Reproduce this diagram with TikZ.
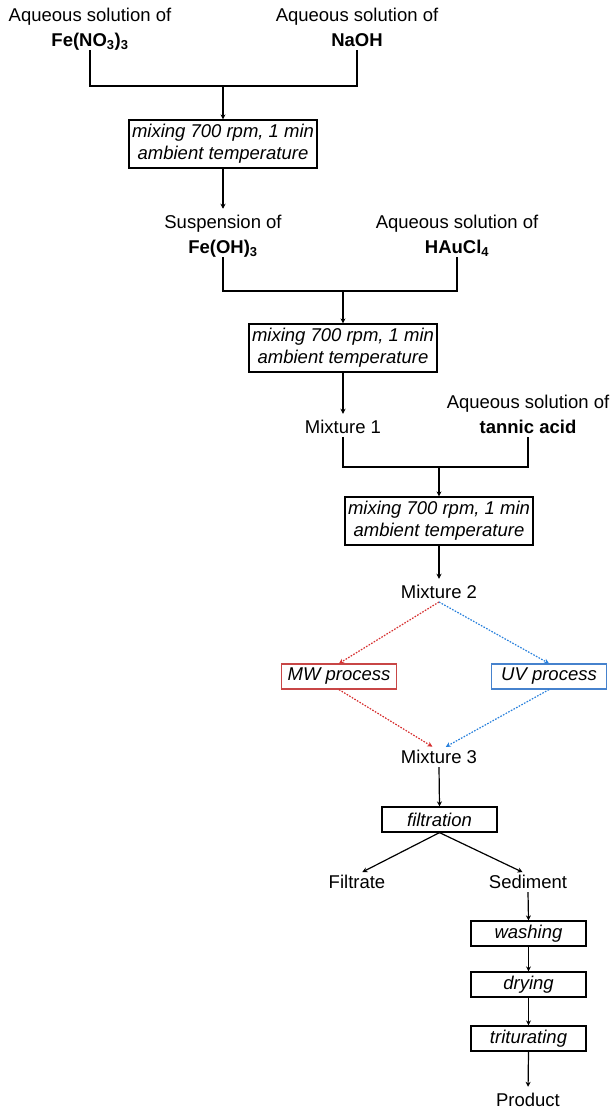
\documentclass[tikz,border=0pt]{standalone}
\usepackage{fontspec}
\setmainfont{Liberation Sans}
\usetikzlibrary{arrows.meta}
\definecolor{mwred}{RGB}{214,48,48}
\definecolor{mwbox}{RGB}{200,70,70}
\definecolor{uvblue}{RGB}{40,128,220}
\definecolor{uvbox}{RGB}{70,130,205}
\begin{document}
\begin{tikzpicture}[x=1pt,y=-1pt,
  lbl/.style={font=\fontsize{18.5}{25}\selectfont, align=center, inner sep=0pt, outer sep=0pt, anchor=south},
  mixbox/.style={draw, line width=1.2pt, font=\fontsize{18.5}{22}\selectfont\itshape, align=center,
    inner xsep=3pt, inner ysep=0pt, minimum height=48pt},
  sbox/.style={draw, line width=1.2pt, font=\fontsize{18.5}{22}\selectfont\itshape,
    inner sep=0pt, minimum width=115pt, minimum height=25pt},
  arr/.style={line width=1.2pt, -{Stealth[length=5pt,width=5pt]}},
  line/.style={line width=1.2pt},
  dotarr/.style={line width=1.2pt, dash pattern=on 1.6pt off 1.4pt, -{Stealth[length=5pt,width=5pt]}},
  tolbl/.style={shorten >=6pt}
]
\useasboundingbox (0,0) rectangle (612,1108);

% row 1
\node[lbl] (fe) at (90,50) {Aqueous solution of\\ \textbf{Fe(NO\textsubscript{3})\textsubscript{3}}\vphantom{()}};
\node[lbl] (naoh) at (357,50) {Aqueous solution of\\ \textbf{NaOH}\vphantom{()}};
\coordinate (j1) at (223,86);
\node[mixbox] (box1) at (223,144) {mixing 700 rpm, 1 min\\ ambient temperature};

% row 2
\node[lbl] (susp) at (223,257) {Suspension of\\ \textbf{Fe(OH)\textsubscript{3}}\vphantom{()}};
\node[lbl] (hau) at (457,257) {Aqueous solution of\\ \textbf{HAuCl\textsubscript{4}}\vphantom{()}};
\coordinate (j2) at (343,291);
\node[mixbox] (box2) at (343,348) {mixing 700 rpm, 1 min\\ ambient temperature};

% row 3
\node[lbl] (mix1) at (343,437) {Mixture 1\vphantom{()}};
\node[lbl] (tan) at (528,437) {Aqueous solution of\\ \textbf{tannic acid}\vphantom{()}};
\coordinate (j3) at (439,467);
\node[mixbox] (box3) at (439,521) {mixing 700 rpm, 1 min\\ ambient temperature};

\node[lbl] (mix2) at (439,602) {Mixture 2\vphantom{()}};
\node[sbox, draw=mwbox] (mw) at (339,676.5) {MW process};
\node[sbox, draw=uvbox] (uv) at (549,676.5) {UV process};
\node[lbl] (mix3) at (439,767) {Mixture 3\vphantom{()}};

\node[sbox] (filt) at (439.5,819.5) {filtration};
\node[lbl] (filtrate) at (357,892) {Filtrate\vphantom{()}};
\node[lbl] (sed) at (528,892) {Sediment\vphantom{()}};
\node[sbox] (wash) at (528.5,933.5) {washing};
\node[sbox] (dry) at (528.5,984.5) {drying};
\node[sbox] (trit) at (528.5,1038.5) {triturating};
\node[lbl] (prod) at (528,1110) {Product\vphantom{()}};

% connectors
\draw[line] (fe.south) |- (j1) -| (naoh.south);
\draw[arr] (j1) -- (box1.north);
\draw[arr, tolbl] (box1.south) -- (susp.north);

\draw[line] (susp.south) |- (j2) -| (hau.south);
\draw[arr] (j2) -- (box2.north);
\draw[arr, tolbl] (box2.south) -- (mix1.north);

\draw[line] (mix1.south) |- (j3) -| (tan.south);
\draw[arr] (j3) -- (box3.north);
\draw[arr, tolbl] (box3.south) -- (mix2.north);

\draw[dotarr, mwred] (mix2.south) -- (mw.north);
\draw[dotarr, uvblue] (mix2.south) -- (uv.north);
\draw[dotarr, mwred, tolbl] (mw.south) -- ([xshift=-1.5pt]mix3.north);
\draw[dotarr, uvblue, tolbl] (uv.south) -- ([xshift=1.5pt]mix3.north);

\draw[arr] (mix3.south) -- (filt.north);
\draw[arr, tolbl] (filt.south) -- (filtrate.north);
\draw[arr, tolbl] (filt.south) -- (sed.north);
\draw[arr] (sed.south) -- (wash.north);
\draw[arr] (wash.south) -- (dry.north);
\draw[arr] (dry.south) -- (trit.north);
\draw[arr, tolbl] (trit.south) -- (prod.north);
\end{tikzpicture}
\end{document}
